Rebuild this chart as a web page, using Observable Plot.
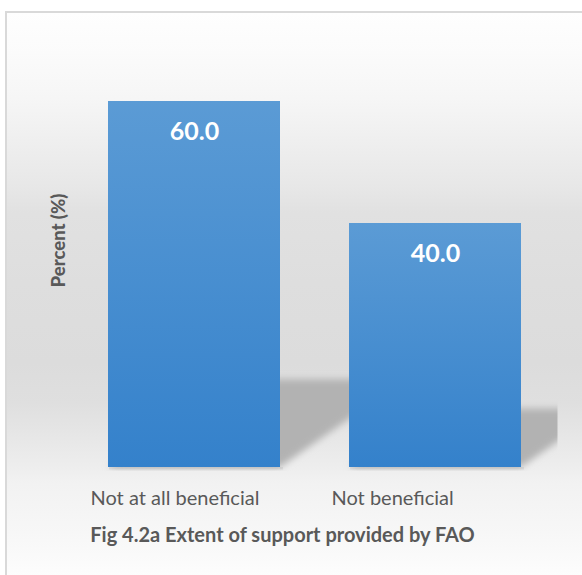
<!DOCTYPE html>
<html>
<head>
<meta charset="utf-8">
<script src="https://cdn.jsdelivr.net/npm/d3@7"></script>
<script src="https://cdn.jsdelivr.net/npm/@observablehq/plot@0.6"></script>
<style>
html, body { margin: 0; padding: 0; background: #ffffff; width: 582px; height: 575px; overflow: hidden; }
#frame {
  position: absolute; left: 5px; top: 11px; width: 700px; height: 700px;
  border-left: 2px solid #d9d9d9; border-top: 2px solid #d9d9d9;
  background: linear-gradient(to bottom,
    #fefefe 0px, #fbfbfb 40px, #f6f6f6 85px, #e7e7e7 175px, #e1e1e1 200px,
    #dedede 270px, #dcdcdc 350px, #dfdfdf 390px, #e8e8e8 430px,
    #eeeeee 456px, #f2f2f2 470px, #f7f7f7 520px, #fdfdfd 564px, #ffffff 700px);
}
#chart { position: absolute; left: 0; top: 0; }
</style>
</head>
<body>
<div id="frame"></div>
<div id="chart"></div>
<script>
const categories = ["Not at all beneficial", "Not beneficial"];
const percents = [60.0, 40.0];
const yAxisTitle = "Percent (%)";
const caption = "Fig 4.2a Extent of support provided by FAO";

const data = categories.map((c, i) => ({category: c, percent: percents[i]}));

const plot = Plot.plot({
  width: 582,
  height: 575,
  marginTop: 40,
  marginBottom: 108,
  marginLeft: 73.5,
  marginRight: 26.5,
  style: {background: "transparent", overflow: "visible", fontFamily: "Lato, 'Open Sans', sans-serif"},
  x: {domain: categories, paddingInner: 0.286, paddingOuter: 0.143, axis: null},
  y: {domain: [0, 70], axis: null},
  marks: [
    Plot.barY(data, {x: "category", y: "percent", fill: "url(#barGradient)"}),
    Plot.text(data, {
      x: "category", y: "percent", text: d => d.percent.toFixed(1),
      dy: 30, fill: "white", fontWeight: "bold", fontSize: 25,
      textAnchor: "middle", lineAnchor: "middle"
    }),
    Plot.text(data, {
      x: "category", text: "category", frameAnchor: "bottom",
      dy: 31, dx: -104, textAnchor: "start", lineAnchor: "middle",
      fill: "#595959", fontSize: 20
    }),
    Plot.text([yAxisTitle], {
      text: d => d, frameAnchor: "left", rotate: -90,
      dx: -15, dy: -13.5, textAnchor: "middle", lineAnchor: "middle",
      fill: "#595959", fontWeight: 900, fontSize: 18.5
    }),
    Plot.text([caption], {
      text: d => d, frameAnchor: "bottom",
      dx: -32.5, dy: 68, textAnchor: "middle", lineAnchor: "middle",
      fill: "#595959", fontWeight: "bold", fontSize: 20
    })
  ]
});

// gradient, blur filter and clip for the bar shadows
const svg = d3.select(plot);
const defs = svg.insert("defs", ":first-child");
const lg = defs.append("linearGradient").attr("id", "barGradient")
  .attr("x1", 0).attr("y1", 0).attr("x2", 0).attr("y2", 1);
lg.append("stop").attr("offset", "0%").attr("stop-color", "#5b9bd5");
lg.append("stop").attr("offset", "100%").attr("stop-color", "#3481cb");
defs.append("filter").attr("id", "shadowBlur")
  .attr("x", "-30%").attr("y", "-30%").attr("width", "160%").attr("height", "160%")
  .append("feGaussianBlur").attr("stdDeviation", 3.5);

const xs = plot.scale("x");
const ys = plot.scale("y");
const base = ys.apply(0);
const clipRight = xs.range[1] + 2;
defs.append("clipPath").attr("id", "shadowClip")
  .append("rect").attr("x", 0).attr("y", 0).attr("width", clipRight).attr("height", base + 4);

const barGroup = plot.querySelector('g[aria-label="bar"]');
const shadowG = document.createElementNS("http://www.w3.org/2000/svg", "g");
plot.insertBefore(shadowG, barGroup);
const sg = d3.select(shadowG).attr("clip-path", "url(#shadowClip)");
const ratio = 0.24, slope = 0.7;
data.forEach(d => {
  const x1 = xs.apply(d.category);
  const x2 = x1 + xs.bandwidth;
  const top = ys.apply(d.percent);
  const hs = (base - top) * ratio;
  const off = hs / slope;
  sg.append("polygon")
    .attr("points", [[x1, base], [x2, base], [x2 + off, base - hs], [x1 + off, base - hs]].map(p => p.join(",")).join(" "))
    .attr("fill", "#b2b2b2")
    .attr("filter", "url(#shadowBlur)");
  sg.append("rect")
    .attr("x", x1 + 1).attr("y", base).attr("width", xs.bandwidth + 2).attr("height", 2.5)
    .attr("fill", "#000").attr("fill-opacity", 0.06);
});

document.getElementById("chart").appendChild(plot);
</script>
</body>
</html>
